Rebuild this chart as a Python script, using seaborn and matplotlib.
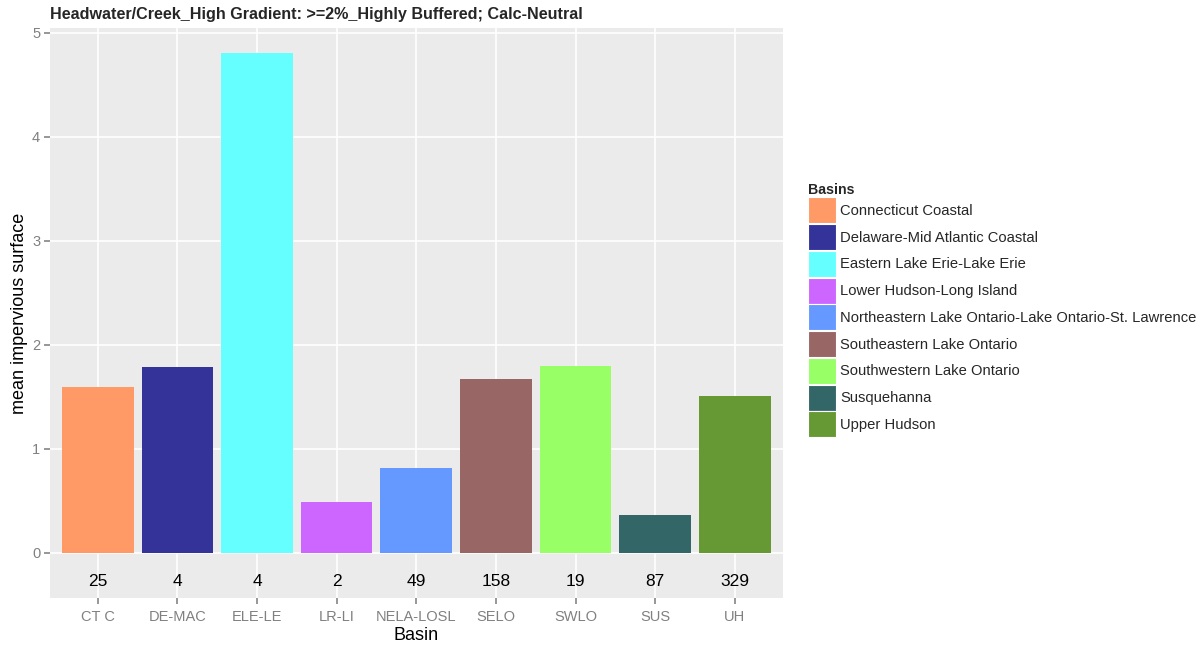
import matplotlib
matplotlib.use("Agg")
import matplotlib.pyplot as plt
from matplotlib.patches import Patch
import seaborn as sns
import pandas as pd

# Basin codes, full names, mean impervious surface and site counts
codes = ["CT C", "DE-MAC", "ELE-LE", "LR-LI", "NELA-LOSL", "SELO", "SWLO", "SUS", "UH"]
basin_names = [
    "Connecticut Coastal",
    "Delaware-Mid Atlantic Coastal",
    "Eastern Lake Erie-Lake Erie",
    "Lower Hudson-Long Island",
    "Northeastern Lake Ontario-Lake Ontario-St. Lawrence",
    "Southeastern Lake Ontario",
    "Southwestern Lake Ontario",
    "Susquehanna",
    "Upper Hudson",
]
mean_impervious = [1.60, 1.785, 4.81, 0.49, 0.82, 1.67, 1.80, 0.365, 1.51]
site_counts = [25, 4, 4, 2, 49, 158, 19, 87, 329]
colors = ["#FF9966", "#333399", "#66FFFF", "#CC66FF", "#6699FF",
          "#996666", "#99FF66", "#336666", "#669933"]

df = pd.DataFrame({"Basin": codes, "Basins": basin_names, "value": mean_impervious})

sns.set_theme(style="darkgrid", rc={
    "axes.facecolor": "#EBEBEB",
    "grid.color": "white",
    "grid.linewidth": 1.2,
    "xtick.bottom": True,
    "ytick.left": True,
    "xtick.major.size": 4,
    "ytick.major.size": 4,
    "xtick.major.width": 1.1,
    "ytick.major.width": 1.1,
    "xtick.direction": "out",
    "ytick.direction": "out",
    "xtick.color": "#7A7A7A",
    "ytick.color": "#7A7A7A",
})
plt.rcParams["font.family"] = ["Liberation Sans", "DejaVu Sans"]

fig = plt.figure(figsize=(12.04, 6.48), dpi=100)
ax = fig.add_axes([0.0415, 0.0772, 0.6085, 0.8798])

sns.barplot(data=df, x="Basin", y="value", hue="Basins", order=codes,
            hue_order=basin_names, palette=colors, dodge=False, width=0.9,
            saturation=1, legend=False, linewidth=0, edgecolor="none", ax=ax)

# site counts written under each bar
for i, n in enumerate(site_counts):
    ax.text(i, -0.27, str(n), ha="center", va="center", fontsize=12.5, color="black")

ax.set_xlim(-0.6, len(codes) - 0.4)
ax.set_ylim(-0.433, 5.048)
ax.set_yticks([0, 1, 2, 3, 4, 5])
ax.set_yticklabels(["0", "1", "2", "3", "4", "5"])
ax.grid(True, axis="both", color="white", linewidth=1.2)
ax.set_axisbelow(True)
for s in ax.spines.values():
    s.set_visible(False)
ax.tick_params(axis="both", which="major", bottom=True, left=True, length=4,
               width=1.1, direction="out", color="#7A7A7A",
               labelcolor="#808080", labelsize=10.5)
ax.tick_params(axis="x", pad=5)
ax.tick_params(axis="y", pad=3)

ax.set_xlabel("Basin", fontsize=13, color="black", labelpad=2)
ax.set_ylabel("mean impervious surface", fontsize=13, color="black", labelpad=3)

fig.text(0.0415, 0.978, "Headwater/Creek_High Gradient: >=2%_Highly Buffered; Calc-Neutral",
         fontsize=11.6, fontweight="bold", ha="left", va="center")

handles = [Patch(facecolor=c, edgecolor="white", linewidth=0.8) for c in colors]
leg = fig.legend(handles, basin_names, title="Basins", loc="upper left",
                 bbox_to_anchor=(0.671, 0.718), frameon=False, fontsize=10.6,
                 handlelength=1.9, handleheight=2.34, labelspacing=0.05,
                 handletextpad=0.3, borderaxespad=0, borderpad=0,
                 alignment="left")
leg.get_title().set_fontweight("bold")
leg.get_title().set_fontsize(10.2)

fig.savefig("out.png", dpi=100, facecolor="white")
